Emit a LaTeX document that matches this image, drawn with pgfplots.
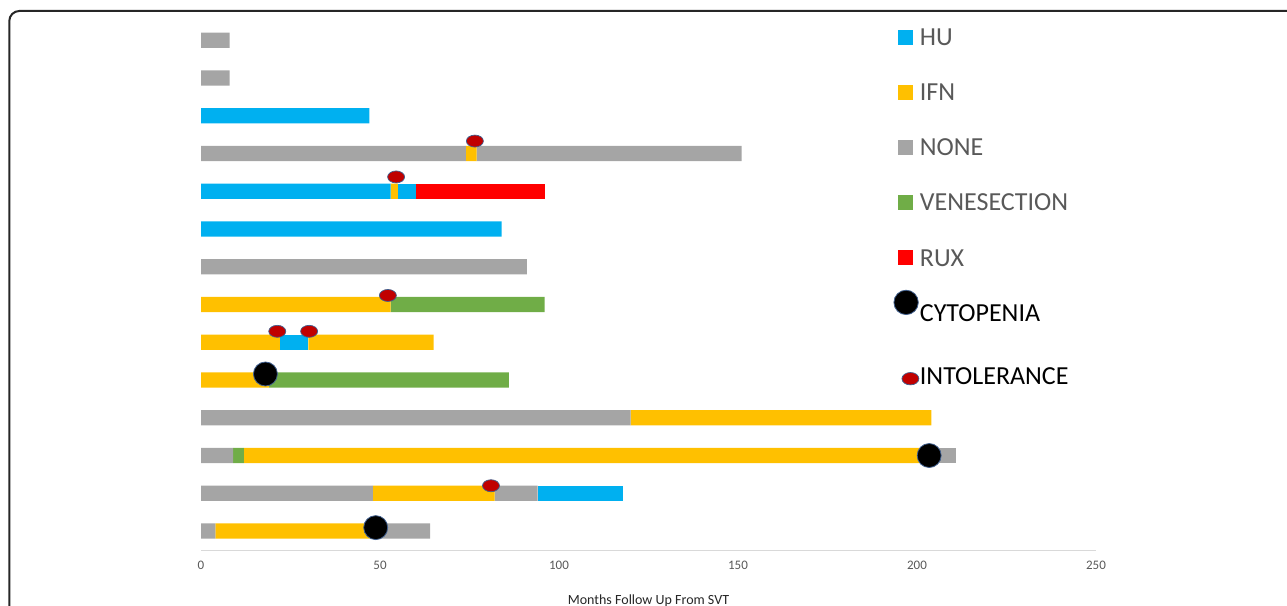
\documentclass[border=0pt]{standalone}
\usepackage{pgfplots}
\pgfplotsset{compat=1.18}
\usepackage{pgfplotstable}
\usepackage{fontspec}
\setmainfont{Carlito}

\definecolor{cHU}{HTML}{00B0F0}
\definecolor{cIFN}{HTML}{FFC000}
\definecolor{cNONE}{HTML}{A5A5A5}
\definecolor{cVEN}{HTML}{70AD47}
\definecolor{cRUX}{HTML}{FF0000}
\definecolor{cINT}{HTML}{C00000}
\definecolor{cEdge}{HTML}{41608F}
\definecolor{tickgray}{HTML}{595959}
\definecolor{axisgray}{HTML}{D9D9D9}

% one row per patient (14 = top), segments in the order they follow each other
\pgfplotstableread{
row p1N p1HU p1IFN p2IFN p2V p2HU p3N p3HU p3IFN p4RUX p4N p4HU
14    8  0  0  0  0 0  0 0   0  0 0  0
13    8  0  0  0  0 0  0 0   0  0 0  0
12    0 47  0  0  0 0  0 0   0  0 0  0
11   74  0  0  3  0 0 74 0   0  0 0  0
10    0 53  0  2  0 0  0 5   0 36 0  0
9     0 84  0  0  0 0  0 0   0  0 0  0
8    91  0  0  0  0 0  0 0   0  0 0  0
7     0  0 53  0 43 0  0 0   0  0 0  0
6     0  0 22  0  0 8  0 0  35  0 0  0
5     0  0 19  0 67 0  0 0   0  0 0  0
4   120  0  0 84  0 0  0 0   0  0 0  0
3     9  0  0  0  3 0  0 0 192  0 7  0
2    48  0  0 34  0 0 12 0   0  0 0 24
1     4  0  0 46  0 0 14 0   0  0 0  0
}\swim

\pgfplotsset{
  swimframe/.style={
    at={(201bp,56.1bp)}, anchor=south west,
    scale only axis, width=895bp, height=528.5bp,
    xmin=0, xmax=250, ymin=0.5, ymax=14.5,
  },
}

\begin{document}
\begin{tikzpicture}
\useasboundingbox (0,0) rectangle (1287bp,606bp);
\draw[line width=2bp, black!85, rounded corners=10bp]
  (9.3bp,-20bp) -- (9.3bp,595bp) -- (1300bp,595bp);

\begin{axis}[
  swimframe,
  xbar stacked, bar width=15.3bp,
  axis x line*=bottom, axis y line=none,
  x axis line style={draw=axisgray, line width=0.8bp},
  xtick={0,50,...,250}, xtick style={draw=none}, ytick=\empty,
  /pgf/number format/assume math mode=true,
  xticklabel style={font=\fontsize{13bp}{15bp}\selectfont, text=tickgray, yshift=-8bp},
  xlabel={Months Follow Up From SVT},
  every axis x label/.style={at={(axis description cs:0.5,0)}, anchor=north,
    yshift=-45bp, inner sep=0pt, font=\fontsize{14bp}{16bp}\selectfont, text=black!85},
]
\addplot[forget plot, fill=cNONE, draw=none] table[x=p1N,y=row] {\swim};
\addplot[forget plot, fill=cHU,   draw=none] table[x=p1HU,y=row] {\swim};
\addplot[forget plot, fill=cIFN,  draw=none] table[x=p1IFN,y=row] {\swim};
\addplot[forget plot, fill=cIFN,  draw=none] table[x=p2IFN,y=row] {\swim};
\addplot[forget plot, fill=cVEN,  draw=none] table[x=p2V,y=row] {\swim};
\addplot[forget plot, fill=cHU,   draw=none] table[x=p2HU,y=row] {\swim};
\addplot[forget plot, fill=cNONE, draw=none] table[x=p3N,y=row] {\swim};
\addplot[forget plot, fill=cHU,   draw=none] table[x=p3HU,y=row] {\swim};
\addplot[forget plot, fill=cIFN,  draw=none] table[x=p3IFN,y=row] {\swim};
\addplot[forget plot, fill=cRUX,  draw=none] table[x=p4RUX,y=row] {\swim};
\addplot[forget plot, fill=cNONE, draw=none] table[x=p4N,y=row] {\swim};
\addplot[forget plot, fill=cHU,   draw=none] table[x=p4HU,y=row] {\swim};
\end{axis}

\begin{axis}[
  swimframe, hide axis,
  legend cell align=left,
  legend style={at={(axis description cs:0.778,0.9875)}, anchor=north west,
    draw=none, fill=none, inner sep=0pt, row sep=38.2bp, column sep=8bp,
    font=\fontsize{26bp}{30bp}\selectfont,
    nodes={inner sep=0pt, text height=17bp, text depth=0bp}},
]
% intolerance
\addplot[forget plot, only marks, mark=*, mark size=6bp,
  mark options={xscale=1.42, fill=cINT, draw=cEdge, line width=0.7bp}]
  coordinates {(76.5,11.33) (54.5,10.38) (52.2,7.24) (21.3,6.29) (30.2,6.29) (81,2.2)};
% cytopenia
\addplot[forget plot, only marks, mark=*, mark size=12bp,
  mark options={fill=black, draw=cEdge, line width=0.8bp}]
  coordinates {(18,5.16) (203.4,3.0) (48.8,1.09)};

\addlegendimage{legend image code/.code={\fill[cHU] (0bp,-7bp) rectangle (14bp,7bp);}}
\addlegendentry{\textcolor{tickgray}{HU}}
\addlegendimage{legend image code/.code={\fill[cIFN] (0bp,-7bp) rectangle (14bp,7bp);}}
\addlegendentry{\textcolor{tickgray}{IFN}}
\addlegendimage{legend image code/.code={\fill[cNONE] (0bp,-7bp) rectangle (14bp,7bp);}}
\addlegendentry{\textcolor{tickgray}{NONE}}
\addlegendimage{legend image code/.code={\fill[cVEN] (0bp,-7bp) rectangle (14bp,7bp);}}
\addlegendentry{\textcolor{tickgray}{VENESECTION}}
\addlegendimage{legend image code/.code={\fill[cRUX] (0bp,-7bp) rectangle (14bp,7bp);}}
\addlegendentry{\textcolor{tickgray}{RUX}}
\addlegendimage{legend image code/.code={\path[draw=none, fill=none] (0bp,-7bp) rectangle (14bp,7bp);
  \filldraw[overlay, fill=black, draw=cEdge, line width=0.8bp] (8.4bp,10.3bp) circle (12.2bp);}}
\addlegendentry{CYTOPENIA}
\addlegendimage{legend image code/.code={\path[draw=none, fill=none] (0bp,-7bp) rectangle (14bp,7bp);
  \filldraw[overlay, fill=cINT, draw=cEdge, line width=0.7bp] (12.7bp,-10.8bp) ellipse (8.5bp and 6.2bp);}}
\addlegendentry{\raisebox{-7.8bp}{INTOLERANCE}}
\end{axis}
\end{tikzpicture}
\end{document}
